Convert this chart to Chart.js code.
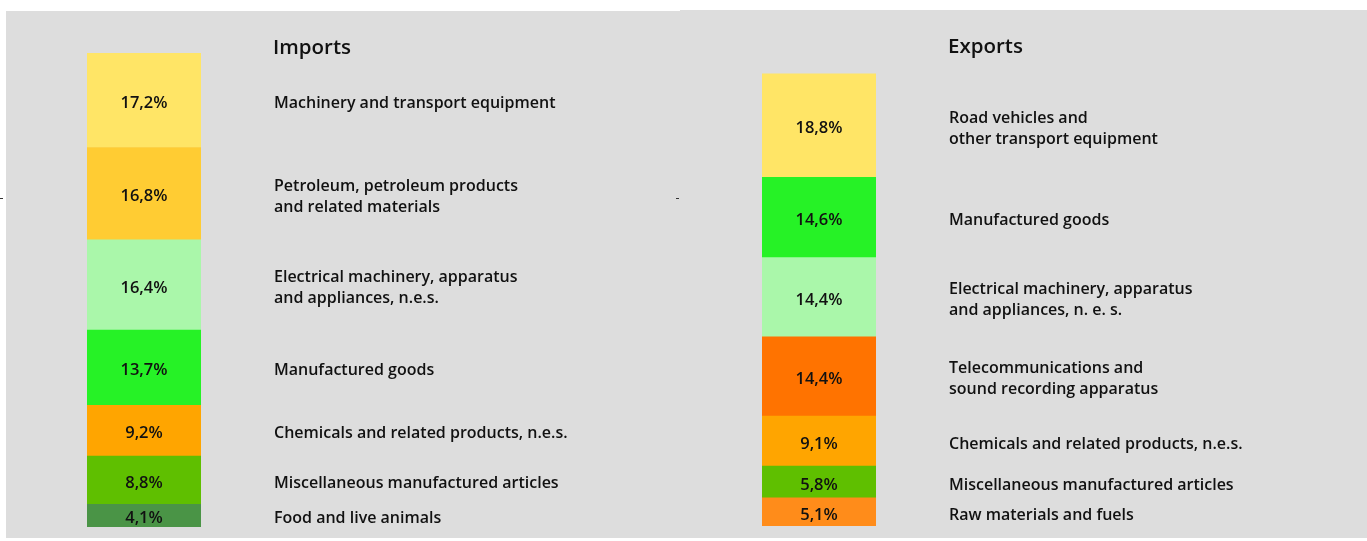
<!DOCTYPE html>
<html>
<head>
<meta charset="utf-8">
<script src="https://cdn.jsdelivr.net/npm/chart.js@4.4.0/dist/chart.umd.min.js"></script>
<style>
  html, body { margin: 0; padding: 0; background: #ffffff; width: 1367px; height: 541px; overflow: hidden; }
  .panel { position: absolute; background: #dddddd; }
  #pImp { left: 6px; top: 11px; width: 677px; height: 527px; }
  #pExp { left: 680px; top: 10px; width: 687px; height: 528px; }
  .tick { position: absolute; width: 3px; height: 1px; background: #333; }
</style>
</head>
<body>
<div class="panel" id="pImp"><canvas id="cImp"></canvas></div>
<div class="panel" id="pExp"><canvas id="cExp"></canvas></div>
<div class="tick" style="left:0px;top:198px"></div>
<div class="tick" style="left:676px;top:198px"></div>
<script>
// ---- data ----
const importCategories = [
  ["Machinery and transport equipment"],
  ["Petroleum, petroleum products", "and related materials"],
  ["Electrical machinery, apparatus", "and appliances, n.e.s."],
  ["Manufactured goods"],
  ["Chemicals and related products, n.e.s."],
  ["Miscellaneous manufactured articles"],
  ["Food and live animals"]
];
const importValues = [17.2, 16.8, 16.4, 13.7, 9.2, 8.8, 4.1];
const importColors = ["#ffe566", "#ffcc33", "#aaf7aa", "#26f226", "#ffa500", "#5fbf00", "#4a9446"];

const exportCategories = [
  ["Road vehicles and", "other transport equipment"],
  ["Manufactured goods"],
  ["Electrical machinery, apparatus", "and appliances, n. e. s."],
  ["Telecommunications and", "sound recording apparatus"],
  ["Chemicals and related products, n.e.s."],
  ["Miscellaneous manufactured articles"],
  ["Raw materials and fuels"]
];
const exportValues = [18.8, 14.6, 14.4, 14.4, 9.1, 5.8, 5.1];
const exportColors = ["#ffe566", "#26f226", "#aaf7aa", "#ff7300", "#ffa500", "#5fbf00", "#ff8c1a"];

const sum = a => a.reduce((s, v) => s + v, 0);
const yMax = Math.max(sum(importValues), sum(exportValues));
const fmt = v => v.toFixed(1).replace('.', ',') + '%';
const FONT = "'Open Sans', sans-serif";

function makeChart(canvasId, title, cats, values, colors, W, H, barLeft, barRight, bottom, labelX, titleX) {
  const cv = document.getElementById(canvasId);
  cv.width = W; cv.height = H;
  cv.style.width = W + 'px'; cv.style.height = H + 'px';
  const datasets = values.map((v, i) => ({
    label: cats[i].join(' '),
    data: [v],
    backgroundColor: colors[i],
    borderWidth: 0,
    barPercentage: 1,
    categoryPercentage: 1,
    _cat: cats[i]
  })).reverse();
  const labelPlugin = {
    id: 'labels_' + canvasId,
    afterDatasetsDraw(chart) {
      const ctx = chart.ctx;
      ctx.save();
      ctx.fillStyle = '#111';
      ctx.textBaseline = 'middle';
      chart.data.datasets.forEach((ds, di) => {
        const el = chart.getDatasetMeta(di).data[0];
        const cy = (el.y + el.base) / 2 + 3;
        ctx.font = "600 16.5px " + FONT;
        ctx.textAlign = 'center';
        ctx.fillText(fmt(ds.data[0]), el.x, cy);
        ctx.font = "600 16px " + FONT;
        ctx.textAlign = 'left';
        const lines = ds._cat;
        const lh = 21;
        lines.forEach((ln, li) => {
          ctx.fillText(ln, labelX, cy + (li - (lines.length - 1) / 2) * lh);
        });
      });
      ctx.font = "600 20.5px " + FONT;
      ctx.textAlign = 'left';
      ctx.fillText(title, titleX, 37);
      ctx.restore();
    }
  };
  return new Chart(cv, {
    type: 'bar',
    data: { labels: [title], datasets },
    options: {
      responsive: false,
      animation: false,
      devicePixelRatio: 1,
      layout: { padding: { left: barLeft, right: W - barRight, top: bottom - yMax * 5.5, bottom: H - bottom } },
      plugins: { legend: { display: false }, tooltip: { enabled: false }, title: { display: false } },
      scales: {
        x: { stacked: true, display: false },
        y: { stacked: true, display: false, min: 0, max: yMax }
      }
    },
    plugins: [labelPlugin]
  });
}

makeChart('cImp', 'Imports', importCategories, importValues, importColors, 677, 527, 81, 195, 516, 268, 267);
makeChart('cExp', 'Exports', exportCategories, exportValues, exportColors, 687, 528, 82, 196, 516, 269, 268);
</script>
</body>
</html>
